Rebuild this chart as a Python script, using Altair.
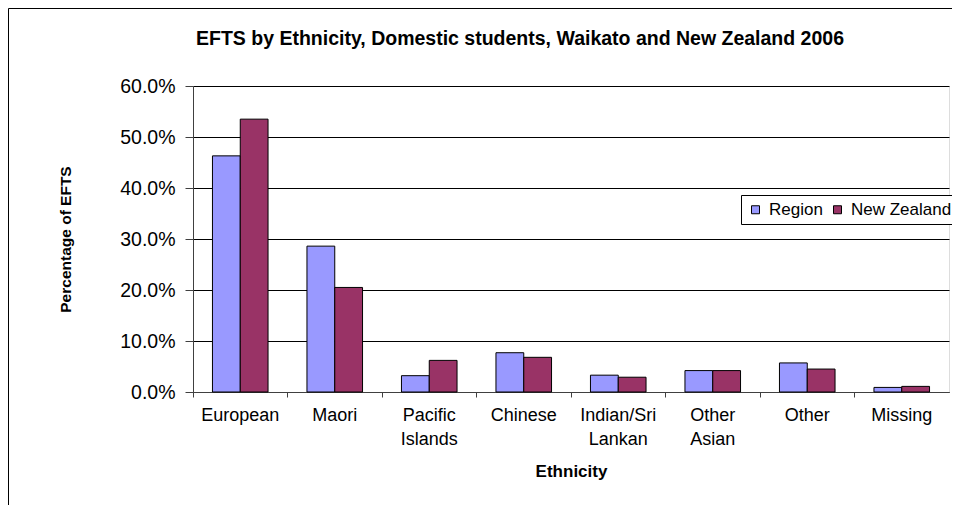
import altair as alt
import pandas as pd

categories = ["European", "Maori", "Pacific Islands", "Chinese",
              "Indian/Sri Lankan", "Other Asian", "Other", "Missing"]
region = [46.3, 28.6, 3.2, 7.7, 3.3, 4.2, 5.7, 0.9]
new_zealand = [53.5, 20.5, 6.2, 6.8, 2.9, 4.2, 4.5, 1.1]
series = ["Region", "New Zealand"]
y_ticks = [0.0, 0.1, 0.2, 0.3, 0.4, 0.5, 0.6]
title_text = "EFTS by Ethnicity, Domestic students, Waikato and New Zealand 2006"

rows = []
for c, r, n in zip(categories, region, new_zealand):
    rows.append({"Ethnicity": c, "Series": series[0], "Value": r / 100})
    rows.append({"Ethnicity": c, "Series": series[1], "Value": n / 100})
df = pd.DataFrame(rows)

FONT = "Liberation Sans"
W, H = 756, 306

bars = alt.Chart(df).mark_bar(stroke="black", strokeWidth=1).encode(
    x=alt.X("Ethnicity:N", sort=categories,
            scale=alt.Scale(paddingInner=0, paddingOuter=0),
            axis=alt.Axis(title="Ethnicity", labelAngle=0, bandPosition=0,
                          labelExpr="split(datum.label, ' ')",
                          labelFontSize=18, labelFont=FONT, labelColor="black",
                          labelPadding=9, labelLineHeight=24, labelBaseline="top",
                          tickSize=5, tickColor="#404040", domainColor="#404040",
                          titleFontSize=17, titleFont=FONT, titleFontWeight="bold",
                          titleColor="black", titleY=79, titleBaseline="middle")),
    xOffset=alt.XOffset("Series:N", sort=series,
                        scale=alt.Scale(paddingInner=0, paddingOuter=0.7)),
    y=alt.Y("Value:Q", scale=alt.Scale(domain=[0, 0.6], nice=False),
            axis=alt.Axis(title="Percentage of EFTS", values=y_ticks, format=".1%",
                          labelFontSize=19.5, labelFont=FONT, labelColor="black",
                          labelPadding=10, tickSize=8, tickColor="#404040",
                          domainColor="#404040", gridColor="black", gridWidth=1,
                          titleFontSize=15.5, titleFont=FONT, titleFontWeight="bold",
                          titleColor="black", titleX=-128, titleY=153,
                          titleAngle=-90, titleAlign="center", titleBaseline="middle")),
    color=alt.Color("Series:N", sort=series,
                    scale=alt.Scale(domain=series, range=["#9999FF", "#993366"]),
                    legend=alt.Legend(title=None, orient="none", legendX=548, legendY=109,
                                      direction="horizontal", fillColor="white",
                                      strokeColor="black", padding=6,
                                      symbolType="square", symbolSize=64,
                                      symbolStrokeColor="black", symbolStrokeWidth=1,
                                      symbolOpacity=1,
                                      labelFontSize=17, labelFont=FONT, labelColor="black",
                                      columnPadding=6, labelOffset=5)),
)

title = alt.Chart(alt.Data(values=[{"t": title_text}])).mark_text(
    font=FONT, fontSize=19.5, fontWeight="bold", color="black",
    align="center", baseline="alphabetic"
).encode(text="t:N", x=alt.value(327), y=alt.value(-41))

border = alt.Chart(alt.Data(values=[{}])).mark_rect(
    fillOpacity=0, stroke="black", strokeWidth=1
).encode(
    x=alt.value(-184.5), x2=alt.value(900),
    y=alt.value(-77.5), y2=alt.value(600),
)

chart = alt.layer(bars, title, border).properties(
    width=W, height=H,
    padding={"left": 185, "top": 78, "right": 3, "bottom": 113},
    autosize=alt.AutoSizeParams(type="none"),
).configure_view(
    fill="#C0C0C0", stroke="#808080", strokeWidth=1
).configure(background="white")

chart.save("out.html", embed_options={"renderer": "svg", "actions": False})
